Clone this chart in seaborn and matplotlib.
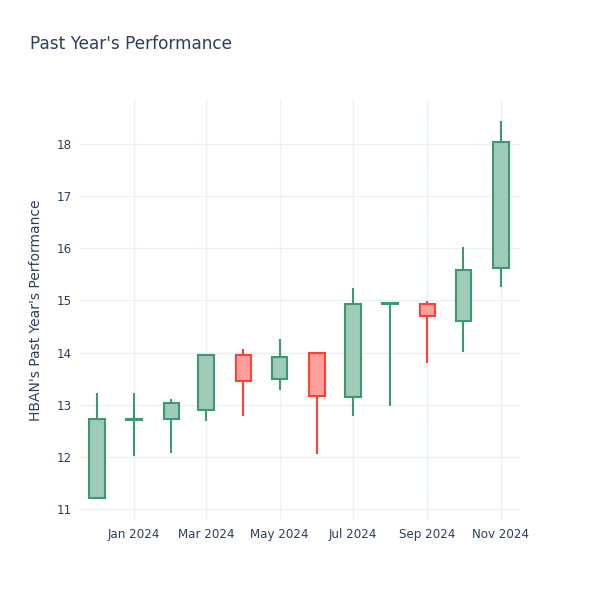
import matplotlib
matplotlib.use("Agg")
import matplotlib.pyplot as plt
import matplotlib.dates as mdates
import seaborn as sns
import pandas as pd
import numpy as np

dates = ["2023-12-01", "2024-01-01", "2024-02-01", "2024-03-01", "2024-04-01", "2024-05-01",
         "2024-06-01", "2024-07-01", "2024-08-01", "2024-09-01", "2024-10-01", "2024-11-01"]
opens = [11.22, 12.70, 12.73, 12.90, 13.95, 13.49, 13.99, 13.14, 14.93, 14.93, 14.60, 15.63]
highs = [13.23, 13.23, 13.12, 13.96, 14.06, 14.27, 13.99, 15.23, 14.97, 14.99, 16.03, 18.44]
lows = [11.20, 12.02, 12.07, 12.69, 12.79, 13.28, 12.05, 12.79, 12.98, 13.81, 14.01, 15.25]
closes = [12.72, 12.72, 13.03, 13.95, 13.46, 13.91, 13.17, 14.94, 14.96, 14.70, 15.58, 18.04]

title = "Past Year's Performance"
ylabel = "HBAN's Past Year's Performance"
yticks = [11, 12, 13, 14, 15, 16, 17, 18]
xtick_dates = ["2024-01-01", "2024-03-01", "2024-05-01", "2024-07-01", "2024-09-01", "2024-11-01"]
xtick_labels = ["Jan 2024", "Mar 2024", "May 2024", "Jul 2024", "Sep 2024", "Nov 2024"]

df = pd.DataFrame({"date": pd.to_datetime(dates), "open": opens, "high": highs,
                   "low": lows, "close": closes})

sns.set_theme(style="white")
plt.rcParams['font.family'] = ['DejaVu Sans']

inc_line, inc_fill = "#3D9970", "#9ECCB8"
dec_line, dec_fill = "#FF4136", "#FFA09B"
text_col = "#2a3f5f"
grid_col = "#EBF0F8"

fig = plt.figure(figsize=(6, 6), dpi=100)
ax = fig.add_axes([80/600, 80/600, 440/600, 420/600])

xnum = mdates.date2num(df["date"])
width = 13.0
for x, o, h, l, c in zip(xnum, df["open"], df["high"], df["low"], df["close"]):
    up = c >= o
    lc = inc_line if up else dec_line
    fc = inc_fill if up else dec_fill
    top, bot = max(o, c), min(o, c)
    ax.vlines(x, top, h, color=lc, lw=1.5, zorder=3)
    ax.vlines(x, l, bot, color=lc, lw=1.5, zorder=3)
    ax.bar(x, top - bot, bottom=bot, width=width, color=fc, edgecolor=lc,
           linewidth=1.5, zorder=4)

ax.set_xlim(mdates.date2num(pd.Timestamp("2023-11-17")), mdates.date2num(pd.Timestamp("2024-11-17")))
ax.set_ylim(10.79, 18.845)
ax.set_yticks(yticks)
ax.set_xticks(mdates.date2num(pd.to_datetime(xtick_dates)))
ax.set_xticklabels(xtick_labels)
ax.grid(True, color=grid_col, lw=1, zorder=0)
ax.set_axisbelow(True)
for s in ax.spines.values():
    s.set_visible(False)
ax.tick_params(axis="both", length=0, labelsize=8.6, colors=text_col, pad=6)
ax.set_ylabel(ylabel, fontsize=10, color=text_col, labelpad=10)
fig.text(30/600, 1 - 44/600, title, fontsize=12.2, color=text_col, ha="left", va="center")

fig.savefig("out.png", dpi=100, facecolor="white")
